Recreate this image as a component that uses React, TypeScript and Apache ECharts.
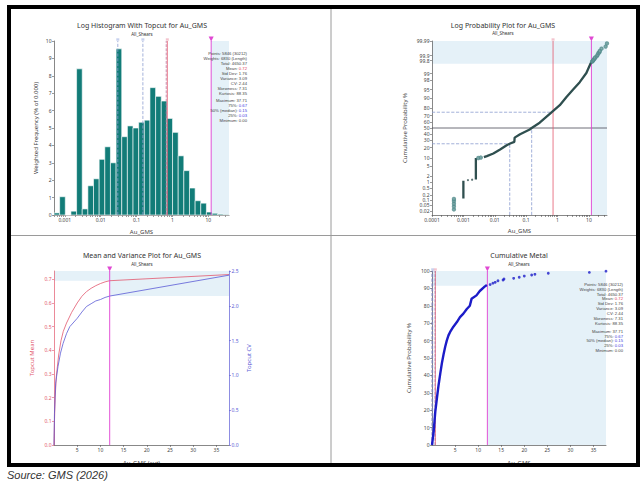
import React, { useEffect, useRef } from "react";
import * as echarts from "echarts";

// ---------------- data ----------------
const histogramFreq = [0.12, 1.05, 0, 0.22, 8.4, 0.35, 1.68, 2.08, 3.2, 3.92, 3.0, 9.55, 4.5, 5.12, 5.0, 5.33, 5.45, 7.32, 6.82, 6.55, 5.55, 4.75, 3.4, 2.55, 1.55, 0.82, 0.68, 0.17, 0.1, 0.05, 0.03];
const histMin = 0.0005;
const dataMax = 37.71;
const topcut = 12;
const q25 = 0.03;
const q50 = 0.15;
const q75 = 0.67;
const meanValue = 0.72;

const decades = [0.0001, 0.001, 0.01, 0.1, 1, 10];
const probTickLabels = [0.01, 0.02, 0.05, 0.1, 0.2, 0.5, 1, 2, 5, 10, 20, 30, 40, 50, 60, 70, 80, 90, 95, 98, 99, 99.8, 99.9, 99.99];

// [value, cumulative %]
const probColumnLow = [[0.001, 0.13], [0.001, 1.2]];
const probColumnPeak = [[0.0025, 1.4], [0.0025, 10]];
const probCurve = [[0.0045, 10.6], [0.0056, 11.5], [0.009, 13.8], [0.0148, 17.9], [0.024, 23], [0.031, 25.4], [0.042, 27.7], [0.043, 34], [0.064, 39.6], [0.13, 47.5], [0.15, 50], [0.27, 59], [0.67, 75.5], [1.18, 83.5], [1.93, 90.8], [3.14, 95], [5.1, 97.5], [8.3, 99.06], [11.2, 99.7], [12, 99.75]];
const probIsolated = [[0.0014, 1.3], [0.0019, 1.35]];
const probOpenLow = [[0.0005, 0.025], [0.0005, 0.04], [0.0005, 0.06], [0.0005, 0.09], [0.0005, 0.12], [0.003, 10.0], [0.0036, 10.3]];
const probTail = [[12.6, 99.77], [13.2, 99.79], [13.7, 99.81], [14.3, 99.83], [15.4, 99.85], [15.6, 99.87], [17.7, 99.89], [18.9, 99.91], [20, 99.93], [21.6, 99.94], [22.3, 99.95], [25.2, 99.965], [34.1, 99.975], [37.71, 99.985]];
const probAtTopcut = 99.7;

// [cut grade, topcut mean] and [cut grade, topcut CV]
const topcutMean = [[0, 0], [0.1, 0.1], [0.25, 0.2], [0.5, 0.29], [1, 0.38], [1.5, 0.44], [2, 0.48], [2.7, 0.515], [3.8, 0.56], [5, 0.6], [6, 0.628], [7, 0.648], [8, 0.662], [9, 0.673], [10, 0.682], [11, 0.689], [12, 0.694], [37.71, 0.72]];
const topcutCV = [[0, 0], [0.1, 0.45], [0.36, 0.89], [0.87, 1.13], [1.4, 1.32], [1.96, 1.46], [2.7, 1.6], [3.4, 1.7], [5, 1.82], [6, 1.91], [7, 1.99], [8, 2.03], [9, 2.07], [10, 2.09], [11, 2.12], [12, 2.14], [37.71, 2.44]];
const meanAtTopcut = 0.694;
const cvAtTopcut = 2.14;
const meanTicks = [0, 0.1, 0.2, 0.3, 0.4, 0.5, 0.6, 0.7];
const meanAxisMax = 0.735;
const cvAxisMax = 2.5;
const linearTicks = [5, 10, 15, 20, 25, 30, 35];

// [grade, cumulative metal %]
const cumMetalCurve = [[0, 0], [0.36, 7.7], [0.71, 19], [1.07, 27], [1.43, 34.5], [1.79, 41], [2.14, 47], [2.5, 52], [2.86, 56.5], [3.2, 60], [3.57, 63], [3.93, 65], [4.64, 68], [5.36, 70.5], [6.07, 73.5], [6.8, 75.5], [7.5, 78], [8.2, 80], [8.57, 84], [9.64, 86], [10.36, 88.5], [11.4, 91], [11.9, 92]];
const cumMetalTail = [[12.6, 92.2], [13.2, 93], [13.7, 93.5], [14.3, 94.4], [15.4, 94.8], [15.6, 95.4], [17.7, 95.8], [18.9, 96.4], [20, 97.1], [21.6, 97.7], [22.3, 98.1], [25.2, 98.7], [34.1, 99.2], [37.71, 99.9]];
const cumMetalAtTopcut = 91.5;

const statRows = [
  ["Points:", "5846 (30212)", "n"],
  ["Weights:", "6830 (Length)", "n"],
  ["Total:", "4650.37", "n"],
  ["Mean:", "0.72", "r"],
  ["Std Dev:", "1.76", "n"],
  ["Variance:", "3.09", "n"],
  ["CV:", "2.44", "n"],
  ["Skewness:", "7.31", "n"],
  ["Kurtosis:", "88.35", "n"],
  ["Maximum:", "37.71", "n"],
  ["75%:", "0.67", "b"],
  ["50% (median):", "0.15", "b"],
  ["25%:", "0.03", "b"],
  ["Minimum:", "0.00", "n"],
];

// ---------------- helpers ----------------
function probit(p: number): number {
  const a = [-3.969683028665376e1, 2.209460984245205e2, -2.759285104469687e2, 1.38357751867269e2, -3.066479806614716e1, 2.506628277459239];
  const b = [-5.447609879822406e1, 1.615858368580409e2, -1.556989798598866e2, 6.680131188771972e1, -1.328068155288572e1];
  const c = [-7.784894002430293e-3, -3.223964580411365e-1, -2.400758277161838, -2.549732539343734, 4.374664141464968, 2.938163982698783];
  const d = [7.784695709041462e-3, 3.224671290700398e-1, 2.445134137142996, 3.754408661907416];
  const pl = 0.02425;
  if (p < pl) {
    const q = Math.sqrt(-2 * Math.log(p));
    return (((((c[0] * q + c[1]) * q + c[2]) * q + c[3]) * q + c[4]) * q + c[5]) / ((((d[0] * q + d[1]) * q + d[2]) * q + d[3]) * q + 1);
  }
  if (p <= 1 - pl) {
    const q = p - 0.5, r = q * q;
    return ((((((a[0] * r + a[1]) * r + a[2]) * r + a[3]) * r + a[4]) * r + a[5]) * q) / (((((b[0] * r + b[1]) * r + b[2]) * r + b[3]) * r + b[4]) * r + 1);
  }
  const q = Math.sqrt(-2 * Math.log(1 - p));
  return -(((((c[0] * q + c[1]) * q + c[2]) * q + c[3]) * q + c[4]) * q + c[5]) / ((((d[0] * q + d[1]) * q + d[2]) * q + d[3]) * q + 1);
}
const lg = (v: number) => Math.log10(v);
const pz = (p: number) => probit(p / 100);
const toProb = (arr: number[][]) => arr.map(([v, p]) => [lg(v), pz(p)]);

const FONT = "Noto Sans";
const STAT_FONT = "Liberation Sans";
const RED = "#e2576d";
const BLUE = "#5b5bd6";
const MAGENTA = "#e040d2";
const TRI = "#d81cc8";
const SHADE = "#e5f1f8";
const QLINE = "#8c9dd0";
const TEAL = "#127c78";

const hx0 = lg(histMin);
const hx1 = lg(dataMax);
const zMin = pz(0.01);
const zMax = pz(99.99);
const probZ = probTickLabels.map(pz);

function logTicks(lo: number, hi: number) {
  const out: number[] = [];
  decades.forEach((d) => {
    for (let k = 1; k <= 9; k++) {
      const v = lg(k * d);
      if (v >= lo - 1e-9 && v <= hi + 1e-9) out.push(v);
    }
  });
  return out;
}
function decadeLogs(lo: number, hi: number) {
  return decades.map(lg).filter((v) => v >= lo - 1e-9 && v <= hi + 1e-9);
}
const fmtDecade = (v: number) => {
  const e = Math.round(v);
  return e < 0 ? Math.pow(10, e).toFixed(-e) : String(Math.pow(10, e));
};

const base: any = {
  type: "value",
  axisLine: { show: true, onZero: false, lineStyle: { color: "#555", width: 0.7 } },
  axisTick: { show: true, length: 2, lineStyle: { color: "#555", width: 0.6 } },
  axisLabel: { fontSize: 5, color: "#444", margin: 2.5, fontFamily: FONT },
  splitLine: { show: false },
  nameLocation: "middle",
  nameTextStyle: { fontSize: 6, color: "#444", fontFamily: FONT },
};
const ax = (o: any) => ({
  ...base,
  ...o,
  axisLine: { ...base.axisLine, ...(o.axisLine || {}) },
  axisTick: { ...base.axisTick, ...(o.axisTick || {}) },
  axisLabel: { ...base.axisLabel, ...(o.axisLabel || {}) },
  nameTextStyle: { ...base.nameTextStyle, ...(o.nameTextStyle || {}) },
});

// a straight guide line drawn as its own line series (through the axes)
const guide = (xi: number, yi: number, pts: number[][], color: string, type: string, width: number, z = 6) => ({
  type: "line",
  xAxisIndex: xi,
  yAxisIndex: yi,
  z,
  silent: true,
  data: pts,
  symbol: "none",
  showSymbol: false,
  lineStyle: { color, type, width },
});
const triangle = (xi: number, yi: number, pt: number[]) => ({
  type: "scatter",
  xAxisIndex: xi,
  yAxisIndex: yi,
  z: 8,
  silent: true,
  data: [pt],
  symbol: "triangle",
  symbolRotate: 180,
  symbolSize: 5,
  symbolOffset: [0, -2],
  itemStyle: { color: TRI },
});
const tags = (xi: number, yi: number, items: any[]) => ({
  type: "scatter",
  xAxisIndex: xi,
  yAxisIndex: yi,
  z: 8,
  silent: true,
  symbol: "rect",
  symbolSize: [3, 2.4],
  symbolOffset: [0, -1.5],
  data: items.map((it) => ({ value: it.value, itemStyle: { color: it.color } })),
});
const shade = (xi: number, yi: number, anchor: number[], areas: any[]) => ({
  type: "line",
  xAxisIndex: xi,
  yAxisIndex: yi,
  z: 0,
  silent: true,
  data: [anchor],
  symbol: "none",
  showSymbol: false,
  lineStyle: { opacity: 0 },
  markArea: { silent: true, z: 0, itemStyle: { color: SHADE }, data: areas },
});

function statTexts(rightX: number, y0: number, dy: number, gap: number) {
  return statRows.map((r, i) => {
    const y = y0 + i * dy + (i >= 9 ? gap : 0);
    const key = r[2] === "r" ? "r" : r[2] === "b" ? "b" : "n";
    return {
      type: "text",
      x: rightX,
      y,
      z: 100,
      silent: true,
      style: {
        text: `{l|${r[0]} }{${key}|${r[1]}}`,
        align: "right",
        verticalAlign: "middle",
        fontSize: 4.2,
        fontFamily: STAT_FONT,
        rich: {
          l: { fill: "#444", fontSize: 4.2, fontFamily: STAT_FONT },
          n: { fill: "#444", fontSize: 4.2, fontFamily: STAT_FONT },
          r: { fill: "#e0405a", fontSize: 4.2, fontFamily: STAT_FONT },
          b: { fill: "#3a3ae0", fontSize: 4.2, fontFamily: STAT_FONT },
        },
      },
    };
  });
}
const titleText = (text: string, x: number, y: number, size: number) => ({
  type: "text",
  x,
  y,
  z: 100,
  silent: true,
  style: { text, align: "center", verticalAlign: "middle", fontSize: size, fill: "#333", fontFamily: FONT },
});

export default function App() {
  const ref = useRef<HTMLDivElement>(null);
  useEffect(() => {
    if (!ref.current) return;
    const chart = echarts.init(ref.current, null, { renderer: "svg", width: 644, height: 483 });
    const binW = (hx1 - hx0) / histogramFreq.length;
    const histData = histogramFreq.map((v, i) => [hx0 + i * binW, hx0 + (i + 1) * binW, v]);

    const option: any = {
      animation: false,
      backgroundColor: "#fff",
      grid: [
        { left: 54, top: 41, width: 175, height: 174 },
        { left: 432, top: 41, width: 175, height: 174 },
        { left: 54, top: 271, width: 175, height: 174 },
        { left: 432, top: 271, width: 174, height: 174 },
      ],
      xAxis: [
        ax({ gridIndex: 0, min: hx0, max: hx1, name: "Au_GMS", nameGap: 14, axisLabel: { customValues: decadeLogs(hx0, hx1), formatter: fmtDecade }, axisTick: { customValues: logTicks(hx0, hx1) } }),
        ax({ gridIndex: 1, min: -4, max: hx1, name: "Au_GMS", nameGap: 13, axisLabel: { customValues: decadeLogs(-4, hx1), formatter: fmtDecade }, axisTick: { customValues: logTicks(-4, hx1) } }),
        ax({ gridIndex: 2, min: 0, max: dataMax, name: "Au_GMS (cut)", nameGap: 15, axisLabel: { customValues: linearTicks }, axisTick: { customValues: linearTicks } }),
        ax({ gridIndex: 3, min: 0, max: dataMax, name: "Au_GMS", nameGap: 15, axisLabel: { customValues: linearTicks }, axisTick: { customValues: linearTicks } }),
      ],
      yAxis: [
        ax({ gridIndex: 0, min: 0, max: 10, interval: 1, name: "Weighted Frequency (% of 0.000)", nameGap: 15 }),
        ax({
          gridIndex: 1, min: zMin, max: zMax, name: "Cumulative Probability %", nameGap: 24,
          axisLabel: {
            customValues: probZ,
            formatter: (v: number) => {
              let best = 0, bd = Infinity;
              probZ.forEach((z, i) => { const d = Math.abs(z - v); if (d < bd) { bd = d; best = i; } });
              return String(probTickLabels[best]);
            },
          },
          axisTick: { customValues: probZ },
        }),
        ax({
          gridIndex: 2, min: 0, max: meanAxisMax, position: "left", name: "Topcut Mean", nameGap: 19,
          axisLine: { lineStyle: { color: RED, width: 0.7 } },
          axisTick: { customValues: meanTicks, lineStyle: { color: RED, width: 0.6 } },
          axisLabel: { customValues: meanTicks, formatter: (v: number) => v.toFixed(1), color: RED },
          nameTextStyle: { color: RED },
        }),
        ax({
          gridIndex: 2, min: 0, max: cvAxisMax, interval: 0.5, position: "right", name: "Topcut CV", nameGap: 17,
          axisLine: { lineStyle: { color: BLUE, width: 0.7 } },
          axisTick: { lineStyle: { color: BLUE, width: 0.6 } },
          axisLabel: { formatter: (v: number) => v.toFixed(1), color: BLUE },
          nameTextStyle: { color: BLUE },
        }),
        ax({ gridIndex: 3, min: 0, max: 100, interval: 10, name: "Cumulative Probability %", nameGap: 20 }),
      ],
      series: [
        // ---- Histogram ----
        shade(0, 0, [hx0, 0], [[{ xAxis: lg(topcut) }, { xAxis: hx1 }]]),
        {
          type: "custom",
          xAxisIndex: 0,
          yAxisIndex: 0,
          z: 3,
          silent: true,
          data: histData,
          encode: { x: [0, 1], y: 2 },
          renderItem: (params: any, api: any) => {
            const p0 = api.coord([api.value(0), api.value(2)]);
            const p1 = api.coord([api.value(1), 0]);
            return {
              type: "rect",
              shape: { x: p0[0], y: p0[1], width: p1[0] - p0[0], height: p1[1] - p0[1] },
              style: { fill: TEAL, stroke: "#ffffff", lineWidth: 0.6 },
            };
          },
        },
        guide(0, 0, [[lg(q25), 0], [lg(q25), 10]], QLINE, "dashed", 0.8),
        guide(0, 0, [[lg(q50), 0], [lg(q50), 10]], QLINE, "dashed", 0.8),
        guide(0, 0, [[lg(q75), 0], [lg(q75), 10]], "#b36a9a", "dashed", 0.7),
        guide(0, 0, [[lg(meanValue), 0], [lg(meanValue), 10]], RED, "solid", 0.8),
        guide(0, 0, [[lg(topcut), 0], [lg(topcut), 10]], MAGENTA, "solid", 0.9),
        tags(0, 0, [
          { value: [lg(q25), 10], color: "#b9c6ea" },
          { value: [lg(q50), 10], color: "#b9c6ea" },
          { value: [lg(meanValue), 10], color: "#f0b5c2" },
        ]),
        triangle(0, 0, [lg(topcut), 10]),

        // ---- Log probability ----
        shade(1, 1, [-4, zMin], [
          [{ yAxis: pz(probAtTopcut) }, { yAxis: zMax }],
          [{ xAxis: lg(topcut) }, { xAxis: hx1 }],
        ]),
        guide(1, 1, [[-4, 0], [hx1, 0]], "#4a4a55", "solid", 0.8, 2),
        guide(1, 1, [[-4, pz(75)], [lg(q75), pz(75)]], QLINE, "dashed", 0.8, 2),
        guide(1, 1, [[-4, pz(25)], [lg(q25), pz(25)]], QLINE, "dashed", 0.8, 2),
        guide(1, 1, [[lg(q25), zMin], [lg(q25), pz(25)]], QLINE, "dashed", 0.8, 2),
        guide(1, 1, [[lg(q50), zMin], [lg(q50), 0]], QLINE, "dashed", 0.8, 2),
        guide(1, 1, [[lg(meanValue), zMin], [lg(meanValue), zMax]], RED, "solid", 0.8, 2),
        guide(1, 1, [[lg(topcut), zMin], [lg(topcut), zMax]], MAGENTA, "solid", 0.9, 2),
        tags(1, 1, [{ value: [lg(meanValue), zMax], color: "#f0b5c2" }]),
        triangle(1, 1, [lg(topcut), zMax]),
        ...[probColumnLow, probColumnPeak, probCurve].map((segData) => ({
          type: "line",
          xAxisIndex: 1,
          yAxisIndex: 1,
          z: 4,
          silent: true,
          data: toProb(segData),
          symbol: "none",
          lineStyle: { color: "#2f4f4f", width: 2.3 },
        })),
        {
          type: "scatter", xAxisIndex: 1, yAxisIndex: 1, z: 4, silent: true,
          data: toProb(probIsolated), symbol: "circle", symbolSize: 2.2, itemStyle: { color: "#2f4f4f" },
        },
        {
          type: "scatter", xAxisIndex: 1, yAxisIndex: 1, z: 5, silent: true,
          data: toProb(probOpenLow.concat(probTail)), symbol: "emptyCircle", symbolSize: 2.4,
          itemStyle: { color: "#4f8a8a", borderWidth: 0.6 },
        },

        // ---- Mean and variance ----
        shade(2, 2, [0, 0], [[{ xAxis: 0, yAxis: meanAtTopcut }, { xAxis: dataMax, yAxis: meanAxisMax }]]),
        shade(2, 3, [0, 0], [[{ xAxis: topcut, yAxis: cvAtTopcut }, { xAxis: dataMax, yAxis: cvAxisMax }]]),
        {
          type: "line", xAxisIndex: 2, yAxisIndex: 2, z: 3, silent: true,
          data: topcutMean, symbol: "none", lineStyle: { color: RED, width: 0.8 },
        },
        {
          type: "line", xAxisIndex: 2, yAxisIndex: 3, z: 3, silent: true,
          data: topcutCV, symbol: "none", lineStyle: { color: BLUE, width: 0.8 },
        },
        guide(2, 2, [[topcut, 0], [topcut, meanAxisMax]], MAGENTA, "solid", 0.9),
        triangle(2, 2, [topcut, meanAxisMax]),

        // ---- Cumulative metal ----
        shade(3, 4, [0, 0], [
          [{ yAxis: cumMetalAtTopcut }, { yAxis: 100 }],
          [{ xAxis: topcut }, { xAxis: dataMax }],
        ]),
        guide(3, 4, [[q25, 0], [q25, 100]], "#3a3a8a", "dashed", 0.8, 2),
        guide(3, 4, [[q50, 0], [q50, 100]], QLINE, "dashed", 0.8, 2),
        guide(3, 4, [[q75, 0], [q75, 100]], "#7080c0", "dashed", 0.7, 2),
        guide(3, 4, [[meanValue, 0], [meanValue, 100]], RED, "solid", 0.8, 2),
        guide(3, 4, [[topcut, 0], [topcut, 100]], MAGENTA, "solid", 0.9, 2),
        tags(3, 4, [
          { value: [q50, 100], color: "#b9c6ea" },
          { value: [meanValue, 100], color: "#f0b5c2" },
        ]),
        triangle(3, 4, [topcut, 100]),
        {
          type: "line", xAxisIndex: 3, yAxisIndex: 4, z: 4, silent: true,
          data: cumMetalCurve, symbol: "none", lineStyle: { color: "#1c1cc8", width: 2.4 },
        },
        {
          type: "scatter", xAxisIndex: 3, yAxisIndex: 4, z: 4, silent: true,
          data: cumMetalTail, symbol: "circle", symbolSize: 2.8, itemStyle: { color: "#1c1cc8" },
        },
      ],
      graphic: [
        { type: "line", silent: true, z: 50, shape: { x1: 331, y1: 9, x2: 331, y2: 463 }, style: { stroke: "#9a9a9a", lineWidth: 1 } },
        { type: "line", silent: true, z: 50, shape: { x1: 11, y1: 235.5, x2: 636, y2: 235.5 }, style: { stroke: "#9a9a9a", lineWidth: 1 } },
        { type: "rect", silent: true, z: 60, shape: { x: 9, y: 7, width: 629, height: 458 }, style: { fill: "none", stroke: "#000", lineWidth: 4 } },
        titleText("Log Histogram With Topcut for Au_GMS", 142, 25, 7),
        titleText("All_Shears", 142, 33.5, 4.5),
        titleText("Log Probability Plot for Au_GMS", 503, 25, 7),
        titleText("All_Shears", 503, 33, 4.5),
        titleText("Mean and Variance Plot for Au_GMS", 142, 255, 7),
        titleText("All_Shears", 142, 264, 4.5),
        titleText("Cumulative Metal", 519, 255.5, 7),
        titleText("All_Shears", 519, 264, 4.5),
        ...statTexts(247, 53.3, 5.0, 2),
        ...statTexts(623, 284.3, 4.87, 3),
        {
          type: "text", x: 7, y: 475, z: 100, silent: true,
          style: { text: "Source: GMS (2026)", align: "left", verticalAlign: "middle", fontSize: 11, fontStyle: "italic", fill: "#333", fontFamily: "Liberation Sans" },
        },
      ],
    };
    chart.setOption(option);
    return () => chart.dispose();
  }, []);
  return <div ref={ref} style={{ position: "fixed", left: 0, top: 0, width: 644, height: 483, background: "#fff" }} />;
}
